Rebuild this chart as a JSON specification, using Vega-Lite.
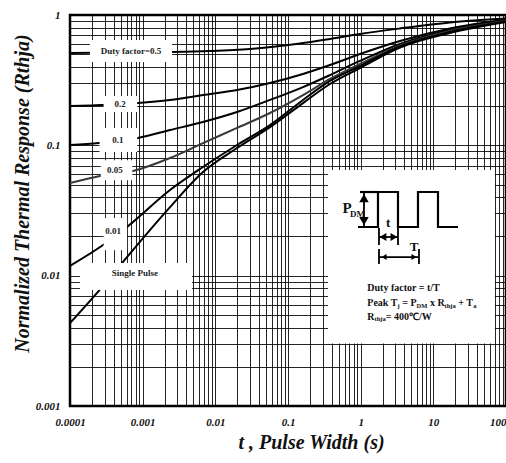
{
  "$schema": "https://vega.github.io/schema/vega-lite/v6.json",
  "width": 436,
  "height": 391,
  "autosize": {"type": "none"},
  "padding": {"left": 70, "top": 15, "right": 0, "bottom": 57},
  "background": "white",
  "config": {
    "view": {"stroke": "black", "strokeWidth": 2.5},
    "text": {"font": "Liberation Serif"}
  },
  "datasets": {
    "curves": [
      {"series": "0.5", "t": 0.0001, "z": 0.511},
      {"series": "0.5", "t": 0.00052, "z": 0.515},
      {"series": "0.5", "t": 0.00253, "z": 0.52},
      {"series": "0.5", "t": 0.00845, "z": 0.529},
      {"series": "0.5", "t": 0.03, "z": 0.548},
      {"series": "0.5", "t": 0.146, "z": 0.604},
      {"series": "0.5", "t": 0.378, "z": 0.655},
      {"series": "0.5", "t": 0.978, "z": 0.715},
      {"series": "0.5", "t": 3.48, "z": 0.788},
      {"series": "0.5", "t": 16.9, "z": 0.876},
      {"series": "0.5", "t": 100, "z": 0.94},
      {"series": "0.2", "t": 0.0001, "z": 0.2},
      {"series": "0.2", "t": 0.00086, "z": 0.211},
      {"series": "0.2", "t": 0.00238, "z": 0.223},
      {"series": "0.2", "t": 0.00676, "z": 0.243},
      {"series": "0.2", "t": 0.0199, "z": 0.266},
      {"series": "0.2", "t": 0.0565, "z": 0.301},
      {"series": "0.2", "t": 0.161, "z": 0.353},
      {"series": "0.2", "t": 0.378, "z": 0.413},
      {"series": "0.2", "t": 0.978, "z": 0.502},
      {"series": "0.2", "t": 3.48, "z": 0.632},
      {"series": "0.2", "t": 16.9, "z": 0.788},
      {"series": "0.2", "t": 100, "z": 0.924},
      {"series": "0.1", "t": 0.0001, "z": 0.1006},
      {"series": "0.1", "t": 0.000251, "z": 0.104},
      {"series": "0.1", "t": 0.00086, "z": 0.114},
      {"series": "0.1", "t": 0.00238, "z": 0.131},
      {"series": "0.1", "t": 0.00676, "z": 0.151},
      {"series": "0.1", "t": 0.0199, "z": 0.18},
      {"series": "0.1", "t": 0.0565, "z": 0.223},
      {"series": "0.1", "t": 0.161, "z": 0.28},
      {"series": "0.1", "t": 0.378, "z": 0.346},
      {"series": "0.1", "t": 0.978, "z": 0.444},
      {"series": "0.1", "t": 3.48, "z": 0.599},
      {"series": "0.1", "t": 16.9, "z": 0.767},
      {"series": "0.1", "t": 100, "z": 0.907},
      {"series": "0.05", "t": 0.0001, "z": 0.0514},
      {"series": "0.05", "t": 0.000259, "z": 0.0582},
      {"series": "0.05", "t": 0.000736, "z": 0.0635},
      {"series": "0.05", "t": 0.00238, "z": 0.0799},
      {"series": "0.05", "t": 0.00676, "z": 0.104},
      {"series": "0.05", "t": 0.0199, "z": 0.136},
      {"series": "0.05", "t": 0.0565, "z": 0.177},
      {"series": "0.05", "t": 0.161, "z": 0.243},
      {"series": "0.05", "t": 0.378, "z": 0.323},
      {"series": "0.05", "t": 0.978, "z": 0.421},
      {"series": "0.05", "t": 3.48, "z": 0.583},
      {"series": "0.05", "t": 16.9, "z": 0.754},
      {"series": "0.05", "t": 100, "z": 0.899},
      {"series": "0.01", "t": 0.0001, "z": 0.0119},
      {"series": "0.01", "t": 0.000285, "z": 0.0172},
      {"series": "0.01", "t": 0.000628, "z": 0.024},
      {"series": "0.01", "t": 0.00238, "z": 0.0454},
      {"series": "0.01", "t": 0.00676, "z": 0.0682},
      {"series": "0.01", "t": 0.0199, "z": 0.1006},
      {"series": "0.01", "t": 0.0565, "z": 0.143},
      {"series": "0.01", "t": 0.161, "z": 0.223},
      {"series": "0.01", "t": 0.378, "z": 0.312},
      {"series": "0.01", "t": 0.978, "z": 0.406},
      {"series": "0.01", "t": 3.48, "z": 0.573},
      {"series": "0.01", "t": 16.9, "z": 0.741},
      {"series": "0.01", "t": 100, "z": 0.892},
      {"series": "single", "t": 0.0001, "z": 0.00433},
      {"series": "single", "t": 0.000276, "z": 0.00818},
      {"series": "single", "t": 0.00052, "z": 0.0125},
      {"series": "single", "t": 0.00238, "z": 0.0336},
      {"series": "single", "t": 0.00676, "z": 0.0624},
      {"series": "single", "t": 0.0199, "z": 0.0954},
      {"series": "single", "t": 0.0565, "z": 0.138},
      {"series": "single", "t": 0.161, "z": 0.211},
      {"series": "single", "t": 0.378, "z": 0.2955},
      {"series": "single", "t": 0.978, "z": 0.392},
      {"series": "single", "t": 3.48, "z": 0.563},
      {"series": "single", "t": 16.9, "z": 0.727},
      {"series": "single", "t": 100, "z": 0.884}
    ],
    "boxes": [
      {"name": "0.5", "t": 0.000188, "t2": 0.00254, "z": 0.436, "z2": 0.643},
      {"name": "0.2", "t": 0.00029, "t2": 0.00084, "z": 0.18, "z2": 0.239},
      {"name": "0.1", "t": 0.000255, "t2": 0.00084, "z": 0.089, "z2": 0.136},
      {"name": "0.05", "t": 0.000265, "t2": 0.00072, "z": 0.054, "z2": 0.077},
      {"name": "0.01", "t": 0.00029, "t2": 0.00061, "z": 0.0157, "z2": 0.0277},
      {"name": "single", "t": 0.000137, "t2": 0.00478, "z": 0.00776, "z2": 0.0125},
      {"name": "inset", "t": 0.355, "t2": 70.5, "z": 0.00302, "z2": 0.0647}
    ],
    "labels": [
      {"t": 0.000691, "z": 0.529, "label": "Duty factor=0.5"},
      {"t": 0.000488, "z": 0.2075, "label": "0.2"},
      {"t": 0.000457, "z": 0.11, "label": "0.1"},
      {"t": 0.000416, "z": 0.0647, "label": "0.05"},
      {"t": 0.000391, "z": 0.022, "label": "0.01"},
      {"t": 0.000784, "z": 0.01048, "label": "Single Pulse"}
    ],
    "wave": [
      {"seg": "w", "i": 1, "t": 0.918, "z": 0.02362},
      {"seg": "w", "i": 2, "t": 1.731, "z": 0.02362},
      {"seg": "w", "i": 3, "t": 1.731, "z": 0.04384},
      {"seg": "w", "i": 4, "t": 3.263, "z": 0.04384},
      {"seg": "w", "i": 5, "t": 3.263, "z": 0.02362},
      {"seg": "w", "i": 6, "t": 6.149, "z": 0.02362},
      {"seg": "w", "i": 7, "t": 6.149, "z": 0.04384},
      {"seg": "w", "i": 8, "t": 11.59, "z": 0.04384},
      {"seg": "w", "i": 9, "t": 11.59, "z": 0.02362},
      {"seg": "w", "i": 10, "t": 21.84, "z": 0.02362},
      {"seg": "top", "i": 1, "t": 0.978, "z": 0.04384},
      {"seg": "top", "i": 2, "t": 1.731, "z": 0.04384}
    ],
    "rules": [
      {"t": 1.111, "t2": 1.111, "z": 0.02362, "z2": 0.04384},
      {"t": 1.787, "t2": 3.263, "z": 0.0198, "z2": 0.0198},
      {"t": 1.787, "t2": 1.787, "z": 0.01719, "z2": 0.0232},
      {"t": 3.263, "t2": 3.263, "z": 0.01719, "z2": 0.0232},
      {"t": 1.787, "t2": 6.347, "z": 0.0139, "z2": 0.0139},
      {"t": 1.787, "t2": 1.787, "z": 0.01229, "z2": 0.01602},
      {"t": 6.347, "t2": 6.347, "z": 0.01229, "z2": 0.01602}
    ],
    "heads": [
      {"arrow": "P", "dir": "up", "t": 1.111, "z": 0.0394},
      {"arrow": "P", "dir": "down", "t": 1.111, "z": 0.02626},
      {"arrow": "t", "dir": "left", "t": 2.028, "z": 0.0198},
      {"arrow": "t", "dir": "right", "t": 2.873, "z": 0.0198},
      {"arrow": "T", "dir": "left", "t": 2.094, "z": 0.0139},
      {"arrow": "T", "dir": "right", "t": 5.418, "z": 0.0139}
    ],
    "diag": [
      {"role": "big", "label": "P", "t": 0.648, "z": 0.033},
      {"role": "sub", "label": "DM", "t": 0.713, "z": 0.0297},
      {"role": "mid", "label": "t", "t": 2.4, "z": 0.02535},
      {"role": "mid", "label": "T", "t": 5.418, "z": 0.0166}
    ],
    "notes": [
      {"role": "main", "label": "Duty factor = t/T", "t": 1.2334, "z": 0.008},
      {"role": "main", "label": "Peak T", "t": 1.2334, "z": 0.0062},
      {"role": "sub", "label": "j", "t": 3.2211, "z": 0.0059},
      {"role": "main", "label": "= P", "t": 3.7383, "z": 0.0062},
      {"role": "sub", "label": "DM", "t": 5.8834, "z": 0.0059},
      {"role": "main", "label": "x R", "t": 8.9652, "z": 0.0062},
      {"role": "sub", "label": "thja", "t": 14.284, "z": 0.0059},
      {"role": "main", "label": "+ T", "t": 22.04, "z": 0.0062},
      {"role": "sub", "label": "a", "t": 35.35, "z": 0.0059},
      {"role": "main", "label": "R", "t": 1.2334, "z": 0.00484},
      {"role": "sub", "label": "thja", "t": 1.5499, "z": 0.00461},
      {"role": "main", "label": "= 400℃/W", "t": 2.2103, "z": 0.00484}
    ]
  },
  "encoding": {
    "x": {
      "field": "t", "type": "quantitative",
      "scale": {"type": "log", "domain": [0.0001, 100], "nice": false},
      "axis": {
        "values": [0.0001,0.0002,0.0003,0.0004,0.0005,0.0006,0.0007,0.0008,0.0009,0.001,0.002,0.003,0.004,0.005,0.006,0.007,0.008,0.009,0.01,0.02,0.03,0.04,0.05,0.06,0.07,0.08,0.09,0.1,0.2,0.3,0.4,0.5,0.6,0.7,0.8,0.9,1,2,3,4,5,6,7,8,9,10,20,30,40,50,60,70,80,90,100],
        "labelExpr": "indexof([0.0001,0.001,0.01,0.1,1,10,100], datum.value) >= 0 ? format(datum.value, '~g') : ''",
        "labelAlign": {"condition": {"test": "datum.value == 100", "value": "right"}, "value": "center"},
        "labelOverlap": false,
        "labelFlush": false,
        "grid": true, "gridColor": "#000", "gridOpacity": 0.85, "gridWidth": 1,
        "ticks": false, "domain": false,
        "labelFont": "Liberation Serif", "labelFontWeight": "bold", "labelFontStyle": "italic",
        "labelFontSize": 11, "labelColor": "#111", "labelPadding": 10,
        "title": "t , Pulse Width (s)",
        "titleFont": "Liberation Serif", "titleFontWeight": "bold", "titleFontStyle": "italic",
        "titleFontSize": 20, "titleColor": "#111",
        "titleX": 241, "titleY": 42, "titleBaseline": "alphabetic", "titleAlign": "center"
      }
    },
    "y": {
      "field": "z", "type": "quantitative",
      "scale": {"type": "log", "domain": [0.001, 1], "nice": false},
      "axis": {
        "values": [0.001,0.002,0.003,0.004,0.005,0.006,0.007,0.008,0.009,0.01,0.02,0.03,0.04,0.05,0.06,0.07,0.08,0.09,0.1,0.2,0.3,0.4,0.5,0.6,0.7,0.8,0.9,1],
        "labelExpr": "indexof([0.001,0.01,0.1,1], datum.value) >= 0 ? format(datum.value, '~g') : ''",
        "labelOverlap": false,
        "labelFlush": false,
        "grid": true, "gridColor": "#000", "gridOpacity": 0.85, "gridWidth": 1,
        "ticks": false, "domain": false,
        "labelFont": "Liberation Serif", "labelFontWeight": "bold", "labelFontStyle": "italic",
        "labelFontSize": 11, "labelColor": "#111", "labelPadding": 10,
        "title": "Normalized Thermal Response (Rthja)",
        "titleFont": "Liberation Serif", "titleFontWeight": "bold", "titleFontStyle": "italic",
        "titleFontSize": 20, "titleColor": "#111",
        "titleX": -48, "titleY": 178, "titleBaseline": "middle", "titleAlign": "center", "titleAngle": -90
      }
    }
  },
  "layer": [
    {
      "data": {"name": "curves"},
      "mark": {"type": "line", "strokeWidth": 2, "interpolate": "monotone"},
      "encoding": {
        "detail": {"field": "series"},
        "color": {"field": "series", "type": "nominal", "legend": null,
          "scale": {"domain": ["0.5", "0.2", "0.1", "0.05", "0.01", "single"], "range": ["#000", "#000", "#000", "#3a3a3a", "#000", "#000"]}}
      }
    },
    {
      "data": {"name": "boxes"},
      "mark": {"type": "rect", "color": "white"},
      "encoding": {"x2": {"field": "t2"}, "y2": {"field": "z2"}}
    },
    {
      "data": {"name": "labels"},
      "mark": {"type": "text", "font": "Liberation Serif", "fontWeight": "bold", "fontSize": 9, "color": "#222", "align": "center", "baseline": "middle"},
      "encoding": {"text": {"field": "label"}}
    },
    {
      "data": {"name": "wave"},
      "mark": {"type": "line", "color": "black", "strokeWidth": 2.2},
      "encoding": {"detail": {"field": "seg"}, "order": {"field": "i"}}
    },
    {
      "data": {"name": "rules"},
      "mark": {"type": "rule", "color": "black", "strokeWidth": 1.8},
      "encoding": {"x2": {"field": "t2"}, "y2": {"field": "z2"}}
    },
    {
      "data": {"name": "heads"},
      "mark": {"type": "point", "filled": true, "color": "black", "opacity": 1},
      "encoding": {
        "shape": {"field": "dir", "type": "nominal", "legend": null,
          "scale": {"domain": ["up", "down", "left", "right"], "range": ["triangle-up", "triangle-down", "triangle-left", "triangle-right"]}},
        "size": {"field": "arrow", "type": "nominal", "legend": null,
          "scale": {"domain": ["P", "t", "T"], "range": [90, 35, 60]}}
      }
    },
    {
      "data": {"name": "diag"},
      "transform": [{"filter": "datum.role == 'big'"}],
      "mark": {"type": "text", "font": "Liberation Serif", "fontWeight": "bold", "fontSize": 15, "color": "#111", "align": "center", "baseline": "middle"},
      "encoding": {"text": {"field": "label"}}
    },
    {
      "data": {"name": "diag"},
      "transform": [{"filter": "datum.role == 'sub'"}],
      "mark": {"type": "text", "font": "Liberation Serif", "fontWeight": "bold", "fontSize": 9, "color": "#111", "align": "left", "baseline": "middle"},
      "encoding": {"text": {"field": "label"}}
    },
    {
      "data": {"name": "diag"},
      "transform": [{"filter": "datum.role == 'mid'"}],
      "mark": {"type": "text", "font": "Liberation Serif", "fontWeight": "bold", "fontSize": 13, "color": "#111", "align": "center", "baseline": "middle"},
      "encoding": {"text": {"field": "label"}}
    },
    {
      "data": {"name": "notes"},
      "transform": [{"filter": "datum.role == 'main'"}],
      "mark": {"type": "text", "font": "Liberation Serif", "fontWeight": "bold", "fontSize": 10, "color": "#111", "align": "left", "baseline": "middle"},
      "encoding": {"text": {"field": "label"}}
    },
    {
      "data": {"name": "notes"},
      "transform": [{"filter": "datum.role == 'sub'"}],
      "mark": {"type": "text", "font": "Liberation Serif", "fontWeight": "bold", "fontSize": 6.5, "color": "#111", "align": "left", "baseline": "middle"},
      "encoding": {"text": {"field": "label"}}
    }
  ]
}
